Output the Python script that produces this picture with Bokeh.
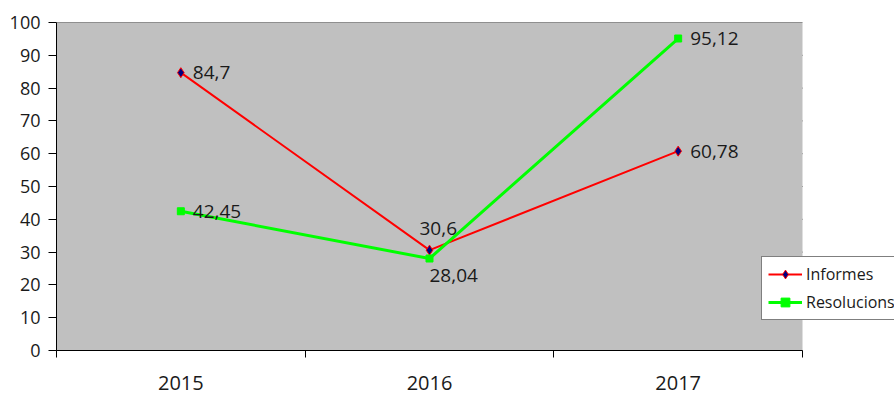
from bokeh.plotting import figure
from bokeh.models import FixedTicker, ColumnDataSource, Legend, LegendItem, BoxAnnotation
from bokeh.core.properties import value
from bokeh.embed import file_html
from bokeh.resources import INLINE

years = ["2015", "2016", "2017"]
informes = [84.7, 30.6, 60.78]
resolucions = [42.45, 28.04, 95.12]
informes_labels = ["84,7", "30,6", "60,78"]
resolucions_labels = ["42,45", "28,04", "95,12"]
y_ticks = [0, 10, 20, 30, 40, 50, 60, 70, 80, 90, 100]

xs = [i + 0.5 for i in range(len(years))]
n = len(years)
FONT = "Open Sans"
TXT = "#1a1a1a"

W, H = 894, 396
LEFT, RIGHT_PX, TOP, BOTTOM = 56, 802, 22, 46
frame_w = W - LEFT
x_end = n * frame_w / (RIGHT_PX - LEFT)

p = figure(width=W, height=H, output_backend="svg", toolbar_location=None,
           x_range=(0, x_end), y_range=(0, 100),
           min_border_left=LEFT, min_border_right=0, min_border_top=TOP, min_border_bottom=BOTTOM)
p.background_fill_color = "white"
p.border_fill_color = "white"
p.outline_line_color = None

# gray plot area limited to the category span
p.add_layout(BoxAnnotation(left=0, right=n, bottom=0, top=100,
                           fill_color="#c0c0c0", fill_alpha=1, line_color=None, level="underlay"))

# horizontal grid lines, only across the plot area
p.segment(x0=[0] * len(y_ticks), x1=[n] * len(y_ticks), y0=y_ticks, y1=y_ticks,
          line_color="black", line_width=1, level="underlay")

# axes
p.xaxis.ticker = FixedTicker(ticks=xs, minor_ticks=list(range(n + 1)))
p.xaxis.bounds = (0, n)
p.xaxis.major_label_overrides = {x: y for x, y in zip(xs, years)}
p.xaxis.major_tick_line_color = None
p.xaxis.minor_tick_out = 7
p.xaxis.minor_tick_in = 0
p.xaxis.minor_tick_line_color = "black"
p.xaxis.axis_line_color = "black"
p.xaxis.major_label_text_font = FONT
p.xaxis.major_label_text_font_size = "20px"
p.xaxis.major_label_text_color = TXT
p.xaxis.major_label_standoff = 18

p.yaxis.ticker = FixedTicker(ticks=y_ticks)
p.yaxis.major_tick_out = 8
p.yaxis.major_tick_in = 0
p.yaxis.minor_tick_line_color = None
p.yaxis.axis_line_color = "black"
p.yaxis.major_tick_line_color = "black"
p.yaxis.major_label_text_font = FONT
p.yaxis.major_label_text_font_size = "18px"
p.yaxis.major_label_text_color = TXT
p.yaxis.major_label_standoff = 8

p.xgrid.grid_line_color = None
p.ygrid.grid_line_color = None

src_i = ColumnDataSource(dict(x=xs, y=informes, lab=informes_labels))
src_r = ColumnDataSource(dict(x=xs, y=resolucions, lab=resolucions_labels))

l1 = p.line("x", "y", source=src_i, line_color="#ff0000", line_width=2)
m1 = p.scatter("x", "y", source=src_i, marker="diamond", size=10,
               fill_color="#000080", line_color="#ff0000", line_width=1)
l2 = p.line("x", "y", source=src_r, line_color="#00ff00", line_width=3)
m2 = p.scatter("x", "y", source=src_r, marker="square", size=7,
               fill_color="#00ff00", line_color="#00ff00")

# data labels
lab_kw = dict(text_font=value(FONT), text_font_size="19px", text_baseline="middle", text_color=TXT)
p.text(x=xs[0], y=informes[0], text=[informes_labels[0]], x_offset=12, y_offset=0, **lab_kw)
p.text(x=xs[1], y=informes[1], text=[informes_labels[1]], x_offset=-10, y_offset=-22, **lab_kw)
p.text(x=xs[2], y=informes[2], text=[informes_labels[2]], x_offset=12, y_offset=0, **lab_kw)
p.text(x=xs[0], y=resolucions[0], text=[resolucions_labels[0]], x_offset=12, y_offset=0, **lab_kw)
p.text(x=xs[1], y=resolucions[1], text=[resolucions_labels[1]], x_offset=0, y_offset=17, **lab_kw)
p.text(x=xs[2], y=resolucions[2], text=[resolucions_labels[2]], x_offset=12, y_offset=0, **lab_kw)

legend = Legend(items=[LegendItem(label="Informes", renderers=[l1, m1]),
                       LegendItem(label="Resolucions", renderers=[l2, m2])],
                location=(705, 30))
legend.background_fill_color = "white"
legend.background_fill_alpha = 1
legend.border_line_color = "black"
legend.border_line_width = 1
legend.label_text_font = FONT
legend.label_text_font_size = "16px"
legend.label_text_color = TXT
legend.glyph_width = 34
legend.glyph_height = 22
legend.spacing = 6
legend.padding = 6
legend.margin = 0
legend.label_standoff = 4
p.add_layout(legend, "center")

open("out.html", "w").write(file_html(p, INLINE))
